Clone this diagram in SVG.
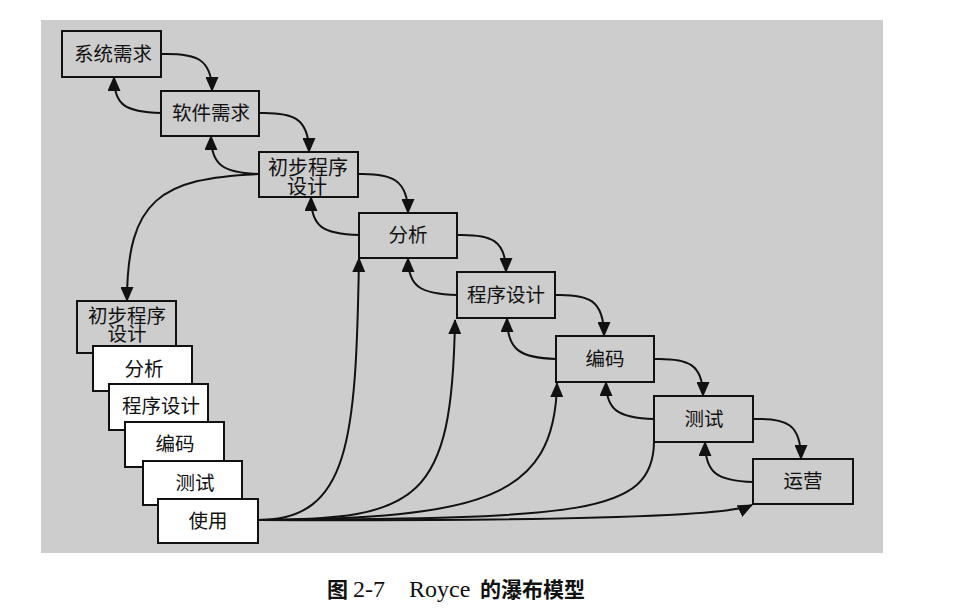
<svg xmlns="http://www.w3.org/2000/svg" width="962" height="609" viewBox="0 0 962 609">
<style>
.bg{fill:#cdcdcd}
.n{fill:#cdcdcd;stroke:#111;stroke-width:2}
.w{fill:#ffffff;stroke:#111;stroke-width:2}
.t{font-family:"Noto Sans CJK SC","Noto Sans",sans-serif;font-size:19.5px;fill:#111;text-anchor:middle}
.c{fill:none;stroke:#111;stroke-width:2}
.cap{font-family:"Liberation Serif","Noto Sans CJK SC",serif;font-size:24px;fill:#111}
.capz{font-family:"Noto Sans CJK SC",sans-serif;font-size:21px;font-weight:bold;fill:#111}
</style>
<defs>
<marker id="ah" markerUnits="userSpaceOnUse" markerWidth="15" markerHeight="13" refX="14" refY="6.5" orient="auto" viewBox="0 0 15 13">
<path d="M0,0 L15,6.5 L0,13 Z" fill="#111"/>
</marker>
</defs>
<rect class="bg" x="41" y="20" width="842" height="533"/>

<g id="connectors">
<path class="c" marker-end="url(#ah)" d="M161,54 C195,53 212,58 212,91"/>
<path class="c" marker-end="url(#ah)" d="M259,113 C293,112 309,118 309,152"/>
<path class="c" marker-end="url(#ah)" d="M358,174 C392,173 408,180 408,213"/>
<path class="c" marker-end="url(#ah)" d="M457,235 C491,234 506,240 506,272"/>
<path class="c" marker-end="url(#ah)" d="M555,295 C589,294 604,300 604,336"/>
<path class="c" marker-end="url(#ah)" d="M654,359 C688,358 703,364 703,396"/>
<path class="c" marker-end="url(#ah)" d="M753,419 C787,418 801,424 801,459"/>

<path class="c" marker-end="url(#ah)" d="M161,113 C125,112 114,105 114,77"/>
<path class="c" marker-end="url(#ah)" d="M259,174 C223,173 211,165 211,136"/>
<path class="c" marker-end="url(#ah)" d="M359,235 C323,234 311,227 311,197"/>
<path class="c" marker-end="url(#ah)" d="M457,295 C421,294 408,287 408,258"/>
<path class="c" marker-end="url(#ah)" d="M556,359 C520,358 507,350 507,318"/>
<path class="c" marker-end="url(#ah)" d="M654,419 C618,418 606,410 606,382"/>
<path class="c" marker-end="url(#ah)" d="M753,482 C717,481 705,473 705,442"/>

<path class="c" marker-end="url(#ah)" d="M259,174 C160,178 127,200 127,301"/>

<path class="c" marker-end="url(#ah)" d="M258,520 C350,520 356,440 359,258"/>
<path class="c" marker-end="url(#ah)" d="M258,520 C420,520 452,500 455,320"/>
<path class="c" marker-end="url(#ah)" d="M258,520 C480,518 555,500 557,383"/>
<path class="c" d="M258,520 C580,518 653,515 654,442"/>
<path class="c" marker-end="url(#ah)" d="M258,520 C500,521 725,518 752,505"/>
</g>

<g id="n-sysreq"><rect class="n" x="62" y="31" width="99" height="46"/><text class="t" x="113" y="61">系统需求</text></g>
<g id="n-swreq"><rect class="n" x="161" y="91" width="98" height="45"/><text class="t" x="211" y="120">软件需求</text></g>
<g id="n-prelim"><rect class="n" x="259" y="152" width="99" height="45"/><text class="t" style="font-size:20px"><tspan x="308" y="175">初步程序</tspan><tspan x="307" y="194">设计</tspan></text></g>
<g id="n-analysis"><rect class="n" x="359" y="213" width="98" height="45"/><text class="t" x="408" y="242">分析</text></g>
<g id="n-progdesign"><rect class="n" x="457" y="272" width="98" height="46"/><text class="t" x="506" y="302">程序设计</text></g>
<g id="n-coding"><rect class="n" x="556" y="336" width="98" height="46"/><text class="t" x="605" y="366">编码</text></g>
<g id="n-testing"><rect class="n" x="654" y="396" width="99" height="46"/><text class="t" x="704" y="426">测试</text></g>
<g id="n-ops"><rect class="n" x="753" y="459" width="100" height="45"/><text class="t" x="803" y="488">运营</text></g>

<g id="s-prelim"><rect class="n" x="77" y="301" width="99" height="52"/><text class="t"><tspan x="127" y="323">初步程序</tspan><tspan x="127" y="341">设计</tspan></text></g>
<g id="s-analysis"><rect class="w" x="93" y="346" width="99" height="45"/><text class="t" x="144" y="376">分析</text></g>
<g id="s-progdesign"><rect class="w" x="109" y="384" width="99" height="46"/><text class="t" x="161" y="413">程序设计</text></g>
<g id="s-coding"><rect class="w" x="125" y="422" width="99" height="45"/><text class="t" x="175" y="451">编码</text></g>
<g id="s-testing"><rect class="w" x="143" y="461" width="99" height="44"/><text class="t" x="195" y="490">测试</text></g>
<g id="s-use"><rect class="w" x="158" y="499" width="100" height="44"/><text class="t" x="208" y="528">使用</text></g>

<g id="caption">
<text class="capz" x="327" y="597">图</text>
<text class="cap" x="353" y="597">2-7</text>
<text class="cap" x="409" y="597">Royce</text>
<text class="capz" x="480" y="597">的瀑布模型</text>
</g>
</svg>
